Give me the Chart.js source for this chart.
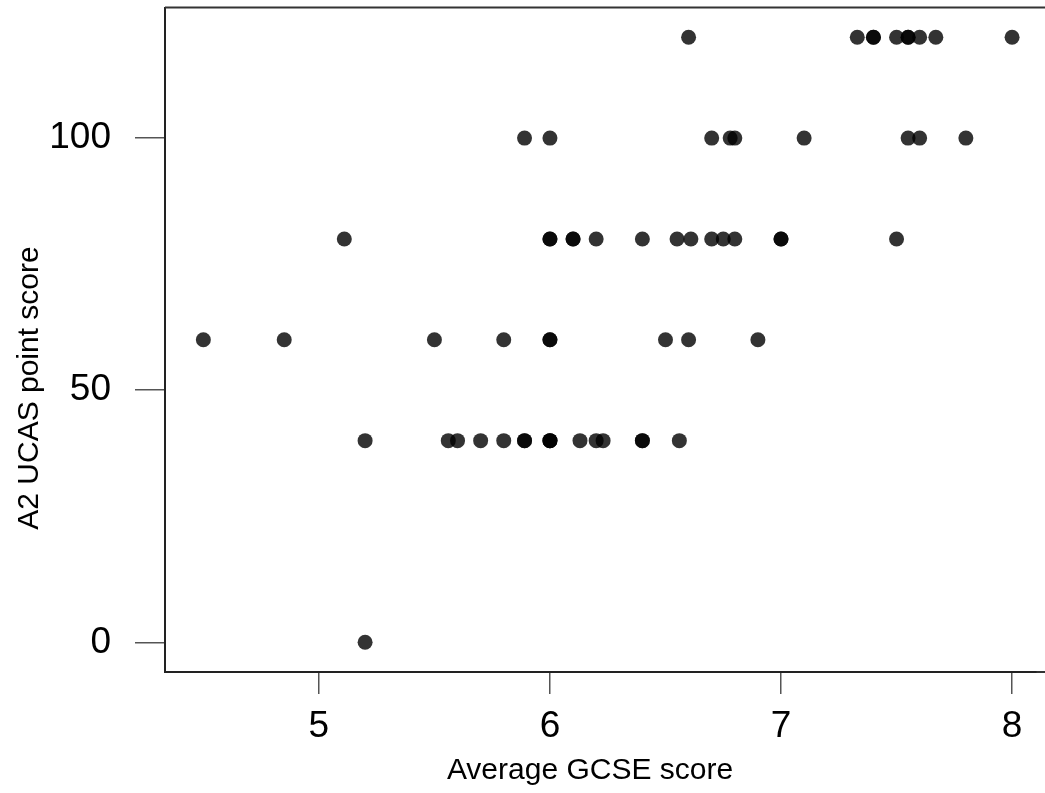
<!DOCTYPE html>
<html lang="en">
<head>
  <meta charset="UTF-8">
  <title>GCSE vs A2 UCAS</title>
  <script src="https://cdn.jsdelivr.net/npm/chart.js"></script>
  <style>
    html, body { margin: 0; padding: 0; background: #fff; overflow: hidden; }
    #wrap { width: 1045px; height: 793px; }
  </style>
</head>
<body>
  <div id="wrap"><canvas id="scatter"></canvas></div>

  <script>
    // Average GCSE score of each student, and their A2 UCAS point score
    const gcse = [
      6.6, 7.33, 7.4, 7.4, 7.5, 7.55, 7.55, 7.6, 7.67, 8.0,
      5.89, 6.0, 6.7, 6.78, 6.8, 7.1, 7.55, 7.6, 7.8,
      5.11, 6.0, 6.0, 6.1, 6.1, 6.2, 6.4, 6.55, 6.61, 6.7, 6.75, 6.8, 7.0, 7.0, 7.5,
      4.5, 4.85, 5.5, 5.8, 6.0, 6.0, 6.5, 6.6, 6.9,
      5.2, 5.56, 5.6, 5.7, 5.8, 5.89, 5.89, 6.0, 6.0, 6.0, 6.13, 6.2, 6.23, 6.4, 6.4, 6.56,
      5.2
    ];
    const ucas = [
      120, 120, 120, 120, 120, 120, 120, 120, 120, 120,
      100, 100, 100, 100, 100, 100, 100, 100, 100,
      80, 80, 80, 80, 80, 80, 80, 80, 80, 80, 80, 80, 80, 80, 80,
      60, 60, 60, 60, 60, 60, 60, 60, 60,
      40, 40, 40, 40, 40, 40, 40, 40, 40, 40, 40, 40, 40, 40, 40, 40,
      0
    ];
    const xTicks = [5, 6, 7, 8];
    const yTicks = [0, 50, 100];
    const xLabel = 'Average GCSE score';
    const yLabel = 'A2 UCAS point score';

    const FONT = "'Liberation Sans', Arial, sans-serif";

    // box edges running off the right side + the two axis titles
    const frame = {
      id: 'frame',
      afterDraw(chart) {
        const { ctx, chartArea: a } = chart;
        ctx.save();
        ctx.strokeStyle = '#333';
        ctx.lineWidth = 2;
        ctx.beginPath();
        ctx.moveTo(a.left, a.top);
        ctx.lineTo(chart.width, a.top);
        ctx.moveTo(a.right - 1, a.bottom);
        ctx.lineTo(chart.width, a.bottom);
        ctx.stroke();

        ctx.fillStyle = '#000';
        ctx.font = '30px ' + FONT;
        ctx.textAlign = 'center';
        ctx.textBaseline = 'alphabetic';
        ctx.fillText(xLabel, 590, 779);

        ctx.translate(38, 388);
        ctx.rotate(-Math.PI / 2);
        ctx.fillText(yLabel, 0, 0);
        ctx.restore();
      }
    };

    // no extra room for half tick labels, the box is fixed
    const noPad = s => {
      s.paddingTop = 0; s.paddingBottom = 0;
      s.paddingLeft = 0; s.paddingRight = 0;
    };

    new Chart(document.getElementById('scatter'), {
      type: 'scatter',
      data: {
        datasets: [{
          data: gcse.map((g, i) => ({ x: g, y: ucas[i] })),
          backgroundColor: 'rgba(0,0,0,0.8)',
          borderWidth: 0,
          pointRadius: 7.5,
          pointHoverRadius: 7.5,
          clip: false
        }]
      },
      options: {
        responsive: true,
        maintainAspectRatio: false,
        animation: false,
        layout: { padding: { top: 7, left: 0, right: 0, bottom: 0 } },
        plugins: { legend: { display: false }, tooltip: { enabled: false } },
        scales: {
          x: {
            type: 'linear',
            min: 4.334,
            max: 8.11,
            afterBuildTicks: s => { s.ticks = xTicks.map(v => ({ value: v })); },
            afterFit: s => { s.height = 121; noPad(s); },
            grid: { drawOnChartArea: false, tickLength: 22, color: '#555', lineWidth: 1.5 },
            border: { display: true, color: '#222', width: 2 },
            ticks: { color: '#000', padding: 11, font: { family: FONT, size: 37 } }
          },
          y: {
            type: 'linear',
            min: -5.886,
            max: 125.9,
            afterBuildTicks: s => { s.ticks = yTicks.map(v => ({ value: v })); },
            afterFit: s => { s.width = 165; noPad(s); },
            grid: { drawOnChartArea: false, tickLength: 30, color: '#555', lineWidth: 1.5 },
            border: { display: true, color: '#222', width: 2 },
            ticks: { color: '#000', padding: 24, font: { family: FONT, size: 37 } }
          }
        }
      },
      plugins: [frame]
    });
  </script>
</body>
</html>
